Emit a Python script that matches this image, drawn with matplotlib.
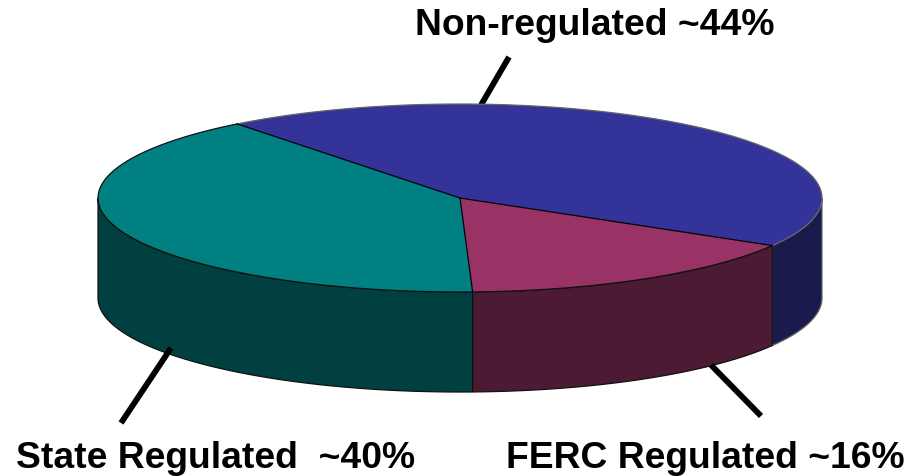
#!/usr/bin/env python3
import matplotlib
matplotlib.use('Agg')
import matplotlib.pyplot as plt
import numpy as np

labels = ['Non-regulated ~44%', 'FERC Regulated ~16%', 'State Regulated  ~40%']
values = [44, 16, 40]
top_colors = ['#333399', '#993366', '#008080']
side_colors = ['#1A1A4D', '#4D1A33', '#004040']
rim_colors = ['#666666', '#111111', '#111111']

# pie geometry, in pixels of the picture
CX, CY = 460, 199
RX, RY = 362, 94
DEPTH = 100
START = 128  # degrees, slices run clockwise from here

plt.rcParams['font.family'] = ['Liberation Sans', 'DejaVu Sans']

fig = plt.figure(figsize=(9.2, 4.77), dpi=100)
ax = fig.add_axes([0, 0, 1, 1])
ax.set_xlim(0, 920)
ax.set_ylim(477, 0)
ax.axis('off')


def arc(a0, a1, n=200):
    t = np.radians(np.linspace(a0, a1, n))
    return CX + RX * np.cos(t), CY - RY * np.sin(t)


# leader lines sit behind the pie
ax.plot([509, 481], [58, 106], color='k', lw=4.2, zorder=1, solid_capstyle='butt')
ax.plot([171, 121], [349, 424], color='k', lw=4.2, zorder=5, solid_capstyle='butt')
ax.plot([711, 761], [366, 417], color='k', lw=4.2, zorder=5, solid_capstyle='butt')

angles = START - np.cumsum([0] + values) * 360 / sum(values)

# side walls: only the front half of the rim (-180..0 deg) shows
for i in range(3):
    for shift in (0, 360):
        lo = max(angles[i + 1] + shift, -180)
        hi = min(angles[i] + shift, 0)
        if lo < hi:
            x, y = arc(hi, lo)
            ax.fill(np.r_[x, x[::-1]], np.r_[y, y[::-1] + DEPTH], fc=side_colors[i],
                    ec=rim_colors[i], lw=0.9, zorder=2)

# top faces, rim and radial edges drawn apart since the rim colour changes
for i in range(3):
    x, y = arc(angles[i], angles[i + 1])
    ax.fill(np.r_[CX, x], np.r_[CY, y], fc=top_colors[i], ec='none', zorder=3)
    ax.plot(x, y, color=rim_colors[i], lw=0.9, zorder=4)
for a in angles[:3]:
    x, y = arc(a, a, n=1)
    ax.plot([CX, x[0]], [CY, y[0]], color='k', lw=0.9, zorder=4)

ax.text(594.5, 35, labels[0], fontsize=26.8, fontweight='bold', ha='center', va='baseline')
ax.text(705, 468.5, labels[1], fontsize=26.8, fontweight='bold', ha='center', va='baseline')
ax.text(215.5, 468.5, labels[2], fontsize=26.8, fontweight='bold', ha='center', va='baseline')

fig.savefig('out.png', dpi=100)
